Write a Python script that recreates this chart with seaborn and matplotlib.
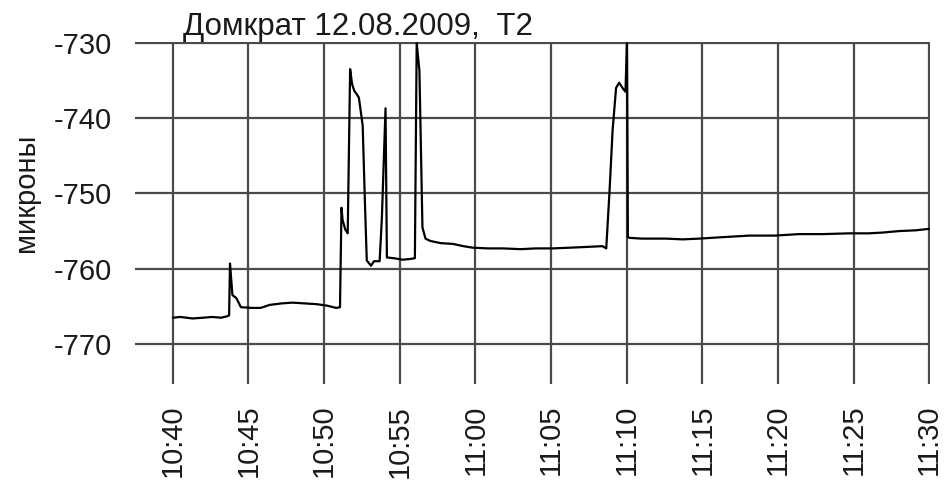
import matplotlib
matplotlib.use("Agg")
import matplotlib.pyplot as plt
import seaborn as sns
import pandas as pd

# minutes after 10:40
minutes = [0, 0.5, 1.3, 2.0, 2.6, 3.2, 3.6, 3.72, 3.78, 3.94, 4.2, 4.5, 5.2, 5.8,
           6.4, 7.2, 7.9, 8.7, 9.5, 10.2, 10.8, 11.05, 11.15, 11.22, 11.4, 11.56,
           11.72, 11.85, 12.0, 12.15, 12.3, 12.55, 12.7, 12.82, 13.1, 13.3, 13.67,
           13.82, 14.06, 14.15, 14.6, 15.2, 15.7, 16.0, 16.12, 16.3, 16.5, 16.7,
           17.0, 17.7, 18.5, 19.2, 19.8, 20.8, 21.8, 23.0, 24.0, 25.1, 26.3, 27.4,
           28.4, 28.65, 28.87, 29.07, 29.3, 29.5, 29.76, 29.92, 30.02, 30.08,
           30.18, 31.0, 32.6, 33.7, 34.8, 36.4, 38.1, 39.8, 41.4, 43.0, 44.7,
           46.0, 46.9, 48.0, 49.1, 50.0]
microns = [-766.5, -766.4, -766.6, -766.5, -766.4, -766.5, -766.3, -766.2, -759.3,
           -763.5, -763.9, -765.1, -765.2, -765.2, -764.8, -764.6, -764.5, -764.6,
           -764.7, -764.9, -765.2, -765.1, -751.9, -753.5, -754.8, -755.3, -733.5,
           -735.5, -736.4, -736.8, -737.3, -741.0, -751.3, -758.9, -759.6, -759.0,
           -759.0, -753.2, -738.7, -758.5, -758.6, -758.8, -758.7, -758.6, -730.0,
           -733.7, -754.5, -756.0, -756.3, -756.6, -756.7, -757.0, -757.2, -757.3,
           -757.3, -757.4, -757.3, -757.3, -757.2, -757.1, -757.0, -757.3, -749.6,
           -741.6, -736.0, -735.3, -736.1, -736.5, -730.0, -755.8, -755.9, -756.0,
           -756.0, -756.1, -756.0, -755.8, -755.6, -755.6, -755.4, -755.4, -755.3,
           -755.3, -755.2, -755.0, -754.9, -754.7]

x_tick_labels = ["10:40", "10:45", "10:50", "10:55", "11:00", "11:05",
                 "11:10", "11:15", "11:20", "11:25", "11:30"]
y_ticks = [-730, -740, -750, -760, -770]

title = "Домкрат 12.08.2009,  T2"
y_label = "микроны"

sns.set_theme(style="white")
plt.rcParams["font.family"] = ["Liberation Sans", "DejaVu Sans"]

df = pd.DataFrame({"t": minutes, "v": microns})


def to_minutes(lbl):
    h, m = lbl.split(":")
    return (int(h) * 60 + int(m)) - (10 * 60 + 40)


x_tick_pos = [to_minutes(l) for l in x_tick_labels]

W, H = 946, 483
fig = plt.figure(figsize=(W / 100, H / 100), dpi=100)
L, R, T, B = 135, 930, 42, 384
ax = fig.add_axes([L / W, 1 - B / H, (R - L) / W, (B - T) / H])

sns.lineplot(data=df, x="t", y="v", ax=ax, color="black", lw=1.6,
             sort=False, estimator=None)

ax.set_xlim(-2.5, 50.05)
ax.set_ylim(-775.3, -729.9)
ax.set_xticks(x_tick_pos)
ax.set_xticklabels(x_tick_labels, rotation=90, fontsize=21)
ax.set_yticks(y_ticks)
ax.set_yticklabels([str(v) for v in y_ticks], fontsize=21)
ax.tick_params(axis="x", length=0, pad=15, colors="#1a1a1a")
ax.tick_params(axis="y", length=0, pad=16.5, colors="#1a1a1a")
ax.set_xlabel("")
ax.set_ylabel("")
ax.grid(True, color="#4a4a4a", lw=1.6)
ax.set_axisbelow(True)
for s in ax.spines.values():
    s.set_visible(False)

fig.text(26 / W, 1 - 193 / H, y_label, rotation=90, ha="center", va="center",
         fontsize=21, color="#1a1a1a")
fig.text(183 / W, 1 - 35 / H, title, ha="left", va="baseline", fontsize=22.5,
         color="#1a1a1a")

fig.savefig("out.png", dpi=100, facecolor="white")
